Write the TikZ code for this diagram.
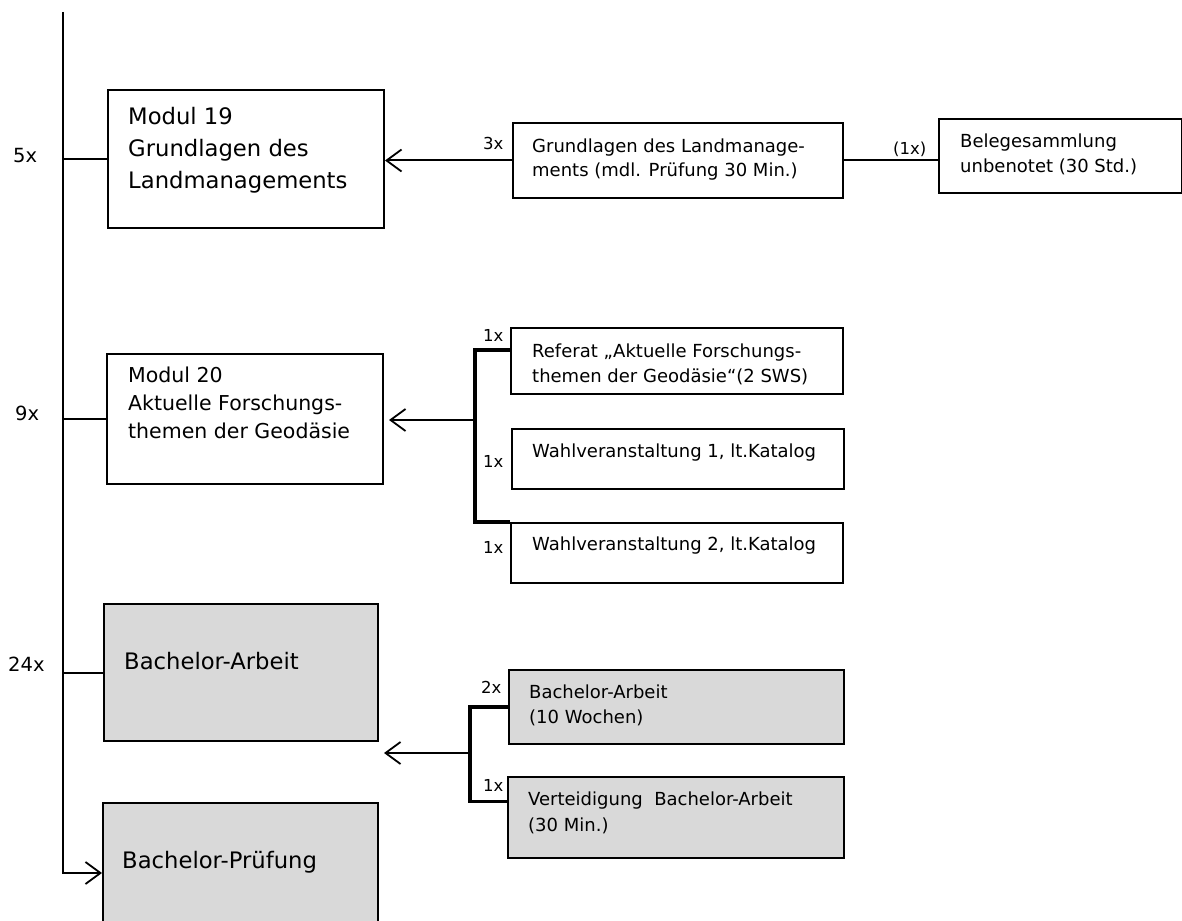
\documentclass[tikz,border=0pt]{standalone}
\usepackage{fontspec}
\setmainfont{DejaVu Sans}
\usetikzlibrary{arrows.meta}
\definecolor{boxgray}{RGB}{217,217,217}
\newcommand\fbig{\fontsize{22.7}{32}\selectfont}
\newcommand\fmid{\fontsize{20.5}{28}\selectfont}
\newcommand\fsml{\fontsize{18}{25}\selectfont}
\newcommand\flab{\fontsize{16.5}{20}\selectfont}
\newcommand\flbig{\fontsize{19.5}{24}\selectfont}
\begin{document}
\begin{tikzpicture}[x=1pt,y=-1pt,
  box/.style={draw, line width=2pt, rectangle, inner sep=0pt, anchor=north west},
  gbox/.style={box, fill=boxgray},
  conn/.style={line width=2pt},
  brk/.style={line width=3.2pt},
  arr/.style={line width=2pt, -{Straight Barb[length=15pt,width=22pt,line width=1.8pt]}},
  txt/.style={anchor=north west, inner sep=0pt, align=left},
  lab/.style={anchor=base west, inner sep=0pt, font=\flab},
  labbig/.style={anchor=base west, inner sep=0pt, font=\flbig}]
\useasboundingbox (0,0) rectangle (1182,920);
\clip (0,0) rectangle (1182,920);

% boxes
\node[box, minimum width=276, minimum height=138] (m19) at (107,89) {};
\node[box, minimum width=276, minimum height=130] (m20) at (106,353) {};
\node[gbox, minimum width=274, minimum height=137] (ba) at (103,603) {};
\node[gbox, minimum width=275, minimum height=140] (bp) at (102,802) {};
\node[box, minimum width=330, minimum height=75] (g19) at (512,122) {};
\node[box, minimum width=243, minimum height=74] (bel) at (938,118) {};
\node[box, minimum width=332, minimum height=66] (ref) at (510,327) {};
\node[box, minimum width=332, minimum height=60] (w1) at (511,428) {};
\node[box, minimum width=332, minimum height=60] (w2) at (510,522) {};
\node[gbox, minimum width=335, minimum height=74] (b1) at (508,669) {};
\node[gbox, minimum width=336, minimum height=81] (vt) at (507,776) {};

% texts
\node[txt, font=\fbig] (t19) at (128,107) {Modul 19\\Grundlagen des\\Landmanagements};
\node[txt, font=\fmid] (t20) at (128,367) {Modul 20\\Aktuelle Forschungs-\\themen der Geodäsie};
\node[txt, font=\fbig] (tba) at (124,652) {Bachelor-Arbeit};
\node[txt, font=\fbig] (tbp) at (122,851) {Bachelor-Prüfung};
\node[txt, font=\fontsize{18}{24}\selectfont] (tg19) at (532,139) {Grundlagen des Landmanage-\\ments (mdl. Prüfung 30 Min.)};
\node[txt, font=\fsml] (tbel) at (960,134) {Belegesammlung\\unbenotet (30 Std.)};
\node[txt, font=\fsml] (tref) at (532,344) {Referat „Aktuelle Forschungs-\\themen der Geodäsie“(2 SWS)};
\node[txt, font=\fsml] (tw1) at (532,444) {Wahlveranstaltung 1, lt.Katalog};
\node[txt, font=\fsml] (tw2) at (532,537) {Wahlveranstaltung 2, lt.Katalog};
\node[txt, font=\fsml] (tb1) at (529,685) {Bachelor-Arbeit\\(10 Wochen)};
\node[txt, font=\fontsize{18}{26}\selectfont] (tvt) at (528,792) {Verteidigung\ \ Bachelor-Arbeit\\(30 Min.)};

% labels
\node[labbig] (l5) at (13,163) {5x};
\node[labbig] (l9) at (15,420) {9x};
\node[labbig] (l24) at (8,671) {24x};
\node[lab] (l3) at (483,150) {3x};
\node[lab] (l1a) at (893,155) {(1x)};
\node[lab] (l1b) at (483,341) {1x};
\node[lab] (l1c) at (483,467) {1x};
\node[lab] (l1d) at (483,553) {1x};
\node[lab] (l2) at (481,693) {2x};
\node[lab] (l1e) at (483,791) {1x};

% main spine
\coordinate (vtop) at (63,12);
\draw[arr] (vtop) |- (bp.west);
\draw[conn] (m19.west) -- (vtop |- m19.west);
\draw[conn] (m20.west) -- (vtop |- m20.west);
\draw[conn] (ba.west) -- (vtop |- ba.west);

% module 19
\draw[arr] (g19.west) -- (m19.east |- g19.west);
\draw[conn] (g19.east) -- (g19.east -| bel.west);

% module 20
\coordinate (j20) at (475,420);
\coordinate (r20) at ([yshift=11pt]ref.west);
\draw[brk] (r20) -- (r20 -| j20) -- (w2.north west -| j20) -- (w2.north west);
\draw[arr, shorten >=5pt] (j20) -- (m20.east |- j20);

% bachelor
\coordinate (jb) at (470,753);
\coordinate (vtin) at ([yshift=16pt]vt.west);
\draw[brk] (b1.west) -- (b1.west -| jb) -- (vtin -| jb) -- (vtin);
\draw[arr] (jb) -- ([xshift=5pt]ba.east |- jb);
\end{tikzpicture}
\end{document}
